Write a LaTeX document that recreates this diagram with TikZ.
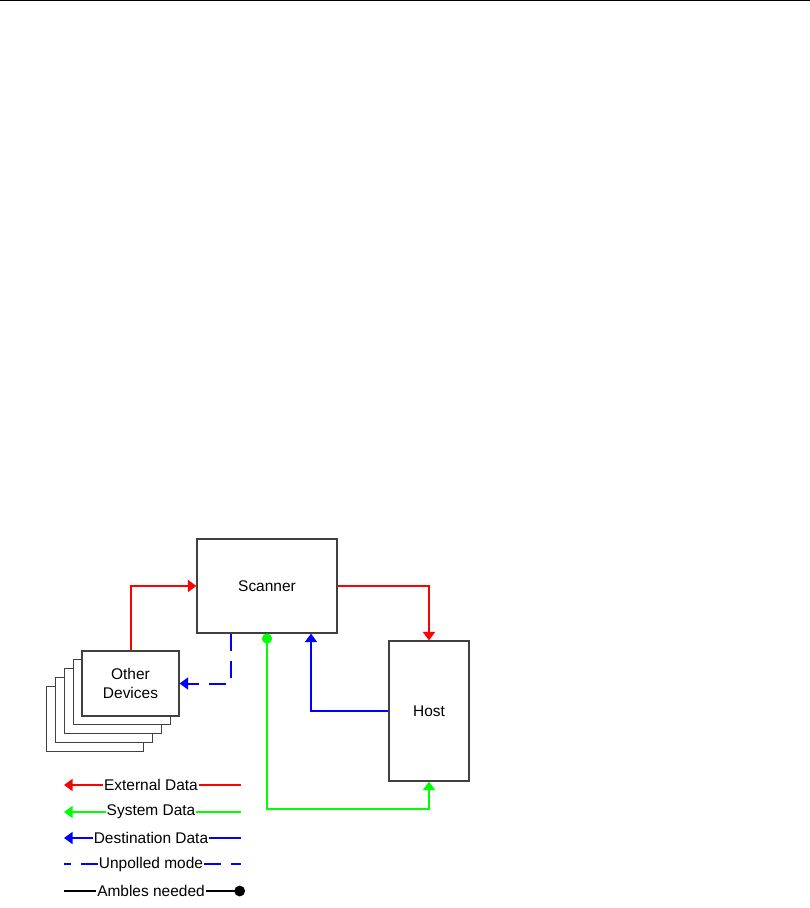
\documentclass[tikz,border=0pt]{standalone}
\usepackage{fontspec}
\setmainfont{Liberation Sans}
\usetikzlibrary{arrows.meta}
\definecolor{ScanRed}{HTML}{FF0000}
\definecolor{ScanGreen}{HTML}{00FF00}
\definecolor{ScanBlue}{HTML}{0000FF}
\definecolor{ScanBox}{HTML}{404040}

\begin{document}
\begin{tikzpicture}[x=0.75pt,y=-0.75pt,>={Triangle[length=6.5pt,width=9pt]},
    font=\fontsize{11.6}{14}\selectfont,
    unit/.style={draw=ScanBox,line width=0.8pt,fill=white,inner sep=0pt,align=center},
    flow/.style={line width=1.5pt},
    legtext/.style={inner sep=0.5pt}]
    \useasboundingbox (0,0) rectangle (810,908);
    \draw[line width=1.1pt] (0,0.7) -- (810,0.7);
    % boxes
    \node[unit,minimum width=105pt,minimum height=70.5pt] (scan) at (267,586) {Scanner};
    \node[unit,minimum width=60pt,minimum height=105pt] (host) at (429,711) {Host};
    \foreach \i in {4,3,2,1}{
      \node[unit,minimum width=72.75pt,minimum height=48.75pt]
        (odev\i) at (130.5-8.9*\i,683.5+8.8*\i) {};}
    \node[unit,minimum width=72.75pt,minimum height=48.75pt] (odev) at (130.5,683.5)
      {Other\\Devices};
    % connectors
    \draw[flow,ScanRed,->] (odev.north) |- (scan.west);
    \draw[flow,ScanRed,->] (scan.east) -| (host.north);
    \draw[flow,ScanBlue,->,dash pattern=on 13pt off 7.5pt]
      ([xshift=-27pt]scan.south) |- (odev.east);
    \draw[flow,ScanGreen,{Circle[length=7.5pt]}->] (scan.south) -- ++(0,175) -| (host.south);
    \draw[flow,ScanBlue,->] (host.west) -| ([xshift=33pt]scan.south);
    % legend
    \foreach \name/\txt/\y in {lext/External Data/785,lsys/System Data/812,
        ldst/Destination Data/838,lunp/Unpolled mode/864,lamb/Ambles needed/891}{
      \node[legtext] (\name) at (151,\y) {\txt};
      \coordinate (\name a) at (64,\y);
      \coordinate (\name b) at (241,\y);}
    \draw[flow,ScanRed,->] (lext) -- (lexta);
    \draw[flow,ScanRed] (lext) -- (lextb);
    \draw[flow,ScanGreen,->] (lsys) -- (lsysa);
    \draw[flow,ScanGreen] (lsys) -- (lsysb);
    \draw[flow,ScanBlue,->] (ldst) -- (ldsta);
    \draw[flow,ScanBlue] (ldst) -- (ldstb);
    \draw[flow,ScanBlue,dash pattern=on 13pt off 7.5pt] (lunp) -- (lunpa);
    \draw[flow,ScanBlue,dash pattern=on 13pt off 7.5pt] (lunp) -- (lunpb);
    \draw[flow] (lamb) -- (lamba);
    \draw[flow,-{Circle[length=8pt]}] (lamb) -- ([xshift=3pt]lambb);
  \end{tikzpicture}
\end{document}
